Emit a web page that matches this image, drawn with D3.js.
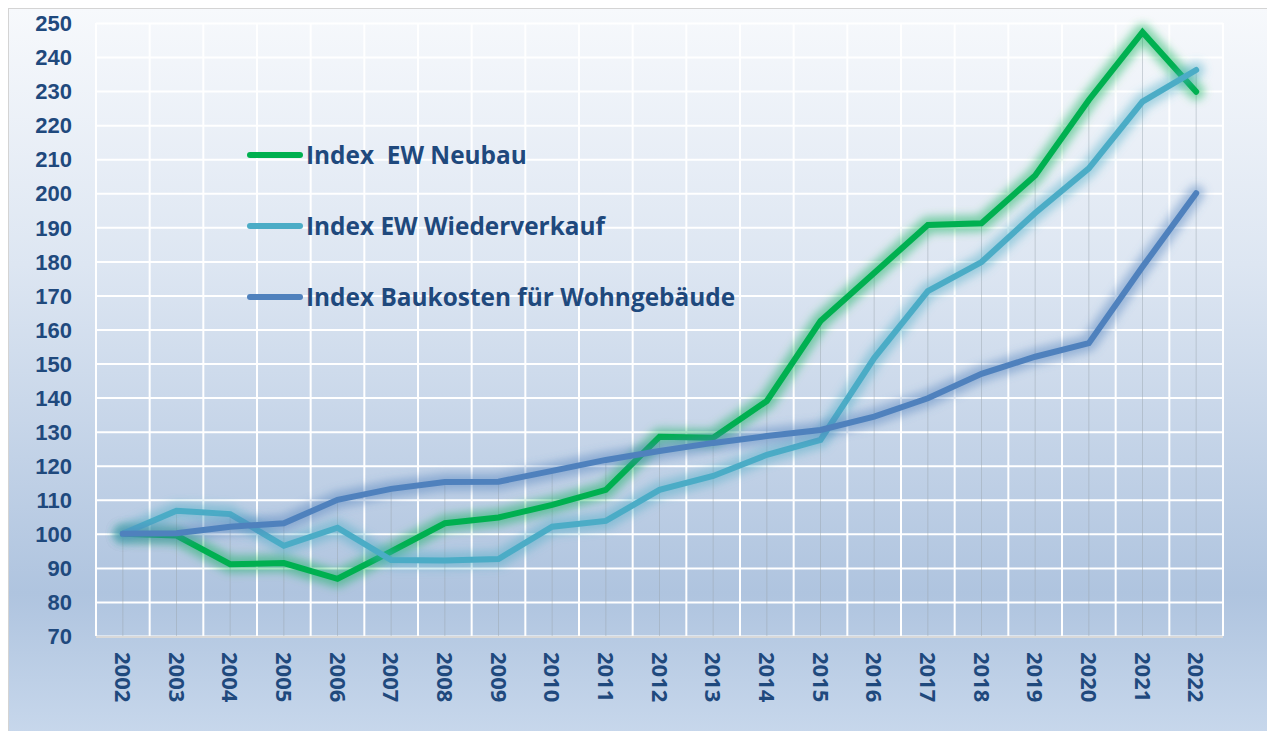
<!DOCTYPE html>
<html>
<head>
<meta charset="utf-8">
<script src="https://cdn.jsdelivr.net/npm/d3@7"></script>
<style>
	body { margin: 0; background: #fff; }
	svg { display: block; font-family: "Open Sans", "Noto Sans", sans-serif; }
	.tick-label { fill: #1f497d; font-weight: 700; }
	.legend-label { fill: #1f497d; font-weight: 700; white-space: pre; }
</style>
</head>
<body>
<div id="chart"></div>
<script>
//data
var years = ["2002","2003","2004","2005","2006","2007","2008","2009","2010","2011","2012","2013","2014","2015","2016","2017","2018","2019","2020","2021","2022"];
var neubau = [100, 99.5, 91.1, 91.4, 86.8, 94.8, 103.1, 104.8, 108.5, 112.9, 128.5, 128.2, 139, 162.5, 176.6, 190.7, 191.2, 205.2, 227.4, 247.3, 229.8];
var wiederverkauf = [100, 106.8, 105.8, 96.5, 101.8, 92.3, 92.2, 92.6, 102.1, 103.8, 112.9, 117, 123.2, 127.6, 151.6, 171.3, 179.8, 194.2, 207.3, 226.9, 236.2];
var baukosten = [100, 100.2, 102.1, 103.1, 110, 113.2, 115.2, 115.3, 118.5, 121.7, 124.3, 126.7, 128.7, 130.5, 134.4, 139.8, 147, 152, 156, 178.4, 200];
var yTicks = [70, 80, 90, 100, 110, 120, 130, 140, 150, 160, 170, 180, 190, 200, 210, 220, 230, 240, 250];

var seriesNames = ["Index  EW Neubau", "Index EW Wiederverkauf", "Index Baukosten für Wohngebäude"];
var seriesColors = ["#00b050", "#4bacc6", "#4f81bd"];
var seriesValues = [neubau, wiederverkauf, baukosten];

var W = 1267, H = 731;
var margin = {top: 23, right: 44, bottom: 95, left: 96};

var svg = d3.select("#chart").append("svg")
	.attr("width", W)
	.attr("height", H);

var defs = svg.append("defs");
var grad = defs.append("linearGradient")
	.attr("id", "bg")
	.attr("x1", 0).attr("y1", 0).attr("x2", 0).attr("y2", 1);
grad.append("stop").attr("offset", "0%").attr("stop-color", "#f7f9fc");
grad.append("stop").attr("offset", "35%").attr("stop-color", "#dde6f2");
grad.append("stop").attr("offset", "80%").attr("stop-color", "#afc4df");
grad.append("stop").attr("offset", "100%").attr("stop-color", "#c8d8ec");

defs.append("filter")
	.attr("id", "glow")
	.attr("x", "-10%").attr("y", "-10%").attr("width", "120%").attr("height", "120%")
	.append("feGaussianBlur")
	.attr("stdDeviation", 4.5);

//chart area
svg.append("rect")
	.attr("x", 8.5).attr("y", 8.5)
	.attr("width", W - 8).attr("height", H)
	.attr("fill", "url(#bg)")
	.attr("stroke", "#d4d4d4");

var x = d3.scaleBand()
	.domain(years)
	.range([margin.left, W - margin.right])
	.padding(0);

var y = d3.scaleLinear()
	.domain([70, 250])
	.range([H - margin.bottom, margin.top]);

function cx(d) { return x(d) + x.bandwidth() / 2; }

var g = svg.append("g");

// horizontal gridlines
g.append("g")
	.attr("transform", "translate(" + margin.left + ",0)")
	.call(d3.axisLeft(y).tickValues(yTicks).tickSize(-(W - margin.right - margin.left)).tickFormat(""))
	.call(function(s) { s.select(".domain").remove(); })
	.selectAll("line")
	.attr("stroke", "#ffffff")
	.attr("stroke-width", 2);

// vertical gridlines on band edges
var edges = years.map(function(d) { return x(d); }).concat([W - margin.right]);
g.append("g")
	.selectAll("line")
	.data(edges)
	.enter().append("line")
	.attr("x1", function(d) { return d; })
	.attr("x2", function(d) { return d; })
	.attr("y1", y(250))
	.attr("y2", y(70))
	.attr("stroke", "#ffffff")
	.attr("stroke-width", 2);

// drop lines from the highest value to the axis
g.append("g")
	.selectAll("line")
	.data(years)
	.enter().append("line")
	.attr("x1", cx)
	.attr("x2", cx)
	.attr("y1", function(d, i) { return y(d3.max(seriesValues, function(s) { return s[i]; })); })
	.attr("y2", y(70))
	.attr("stroke", "#9aa3ad")
	.attr("stroke-opacity", 0.45)
	.attr("stroke-width", 1);

// bottom axis line
g.append("line")
	.attr("x1", margin.left).attr("x2", W - margin.right)
	.attr("y1", y(70) + 1).attr("y2", y(70) + 1)
	.attr("stroke", "#d9d9d9")
	.attr("stroke-width", 2);

// y labels
var yAxis = g.append("g")
	.attr("transform", "translate(" + (margin.left - 24) + ",0)")
	.call(d3.axisLeft(y).tickValues(yTicks).tickSize(0).tickPadding(0));
yAxis.select(".domain").remove();
yAxis.selectAll("text")
	.attr("class", "tick-label")
	.style("font-size", "22px")
	.style("font-family", null)
	.attr("dy", "0.35em");

// x labels
g.append("g")
	.selectAll("text")
	.data(years)
	.enter().append("text")
	.attr("class", "tick-label")
	.style("font-size", "22px")
	.attr("transform", function(d) { return "translate(" + cx(d) + "," + (y(70) + 16) + ") rotate(90)"; })
	.attr("dy", "0.35em")
	.text(function(d) { return d; });

var line = d3.line()
	.x(function(d, i) { return cx(years[i]); })
	.y(function(d) { return y(d); });

seriesValues.forEach(function(vals, k) {
	g.append("path")
		.datum(vals)
		.attr("d", line)
		.attr("fill", "none")
		.attr("stroke", seriesColors[k])
		.attr("stroke-opacity", 0.45)
		.attr("stroke-width", 17)
		.attr("stroke-linejoin", "round")
		.attr("stroke-linecap", "round")
		.attr("filter", "url(#glow)");
	g.append("path")
		.datum(vals)
		.attr("d", line)
		.attr("fill", "none")
		.attr("stroke", seriesColors[k])
		.attr("stroke-width", 6)
		.attr("stroke-linejoin", "miter")
		.attr("stroke-linecap", "round");
});

// legend
var legend = g.append("g");
var legendY = [155, 226, 297];
seriesNames.forEach(function(name, k) {
	legend.append("line")
		.attr("x1", 250).attr("x2", 300)
		.attr("y1", legendY[k]).attr("y2", legendY[k])
		.attr("stroke", seriesColors[k])
		.attr("stroke-width", 6)
		.attr("stroke-linecap", "round");
	legend.append("text")
		.attr("class", "legend-label")
		.attr("x", 306)
		.attr("y", legendY[k])
		.attr("dy", "0.35em")
		.style("font-size", "24.4px")
		.text(name);
});
</script>
</body>
</html>
